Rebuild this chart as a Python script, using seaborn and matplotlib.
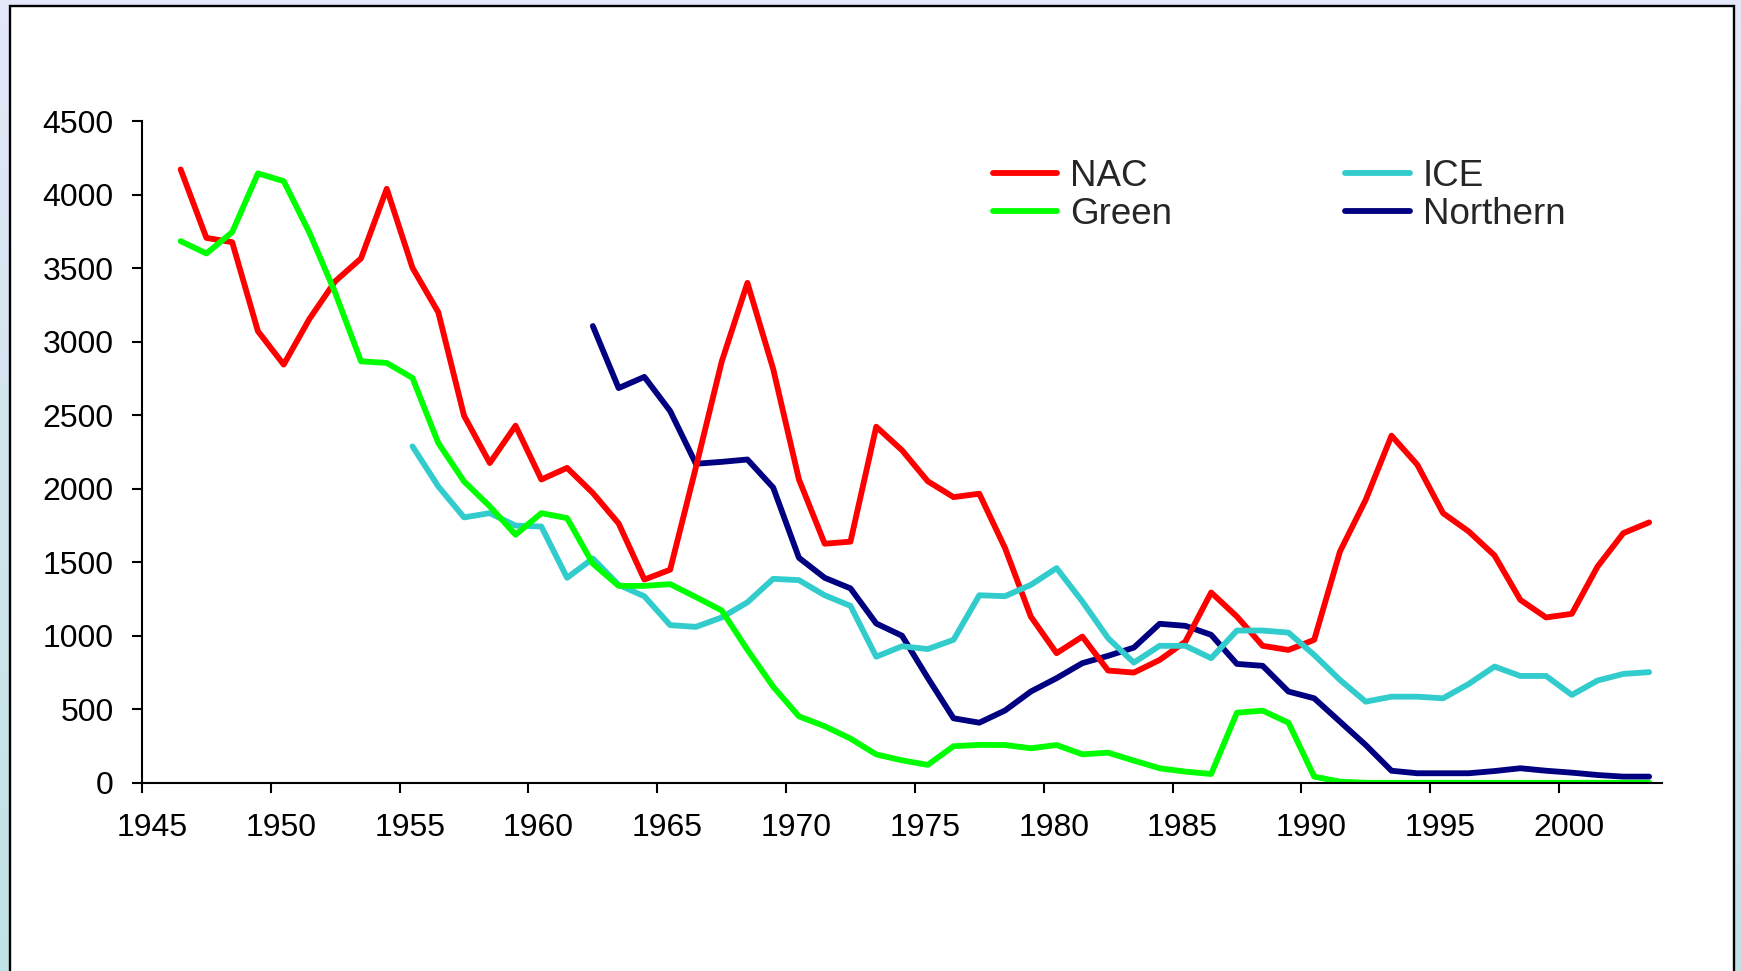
import numpy as np
import pandas as pd
import matplotlib
matplotlib.use("Agg")
import matplotlib.pyplot as plt
import matplotlib.transforms as mtransforms
from matplotlib.patches import Rectangle
from matplotlib.lines import Line2D
from matplotlib.colors import LinearSegmentedColormap
import seaborn as sns

# yearly values
first_year = 1946
nac = [4174, 3708, 3679, 3073, 2846, 3157, 3413, 3568, 4042, 3504,
       3202, 2498, 2176, 2430, 2064, 2143, 1972, 1765, 1383, 1450,
       2147, 2865, 3402, 2816, 2064, 1627, 1641, 2423, 2263, 2052,
       1944, 1967, 1597, 1131, 882, 995, 764, 750, 836, 961,
       1295, 1131, 932, 904, 973, 1574, 1926, 2362, 2165, 1835,
       1710, 1547, 1245, 1125, 1150, 1472, 1699, 1772]
green = [3686, 3602, 3747, 4147, 4094, 3743, 3334, 2868, 2857, 2755,
         2312, 2051, 1881, 1688, 1835, 1801, 1491, 1340, 1340, 1352,
         1264, 1173, 905, 654, 452, 385, 301, 193, 153, 122,
         249, 258, 257, 235, 257, 194, 205, 151, 99, 76,
         60, 477, 491, 409, 42, 8, 0, 0, 0, 0,
         0, 0, 0, 0, 0, 0, 0, 0]
ice_start = 1955
ice = [2289, 2017, 1806, 1835, 1750, 1744, 1395, 1526, 1347, 1269,
       1073, 1061, 1125, 1228, 1388, 1379, 1276, 1204, 858, 929,
       910, 973, 1276, 1270, 1347, 1461, 1234, 984, 818, 932,
       932, 848, 1036, 1036, 1022, 870, 700, 552, 586, 586,
       575, 673, 791, 727, 727, 598, 696, 741, 753]
northern_start = 1962
northern = [3108, 2686, 2762, 2530, 2171, 2184, 2200, 2009, 1531, 1395,
            1323, 1084, 1001, 714, 439, 409, 492, 621, 712, 814,
            864, 920, 1082, 1068, 1007, 809, 796, 621, 575, 416,
            257, 82, 65, 65, 65, 80, 99, 82, 69, 53,
            42, 42]

legend_order = ["NAC", "Green", "ICE", "Northern"]
draw_order = ["Northern", "NAC", "ICE", "Green"]
colors = {"NAC": "#ff0000", "Green": "#00ff00", "ICE": "#33cccc", "Northern": "#000080"}

frames = []
for name, start, vals in [("NAC", first_year, nac), ("Green", first_year, green),
                          ("ICE", ice_start, ice), ("Northern", northern_start, northern)]:
    yrs = np.arange(start, start + len(vals))
    # points sit in the middle of each year category
    frames.append(pd.DataFrame({"year": yrs + 0.5, "count": vals, "series": name}))
df = pd.concat(frames, ignore_index=True)

sns.set_style("ticks")
plt.rcParams["font.family"] = ["Liberation Sans", "DejaVu Sans"]

fig = plt.figure(figsize=(17.41, 9.71), dpi=100)

# slide background + white panel
bg = fig.add_axes([0, 0, 1, 1], zorder=-10)
cmap = LinearSegmentedColormap.from_list("bg", ["#e4e8f8", "#c0e2e6"])
bg.imshow(np.linspace(0, 1, 256).reshape(-1, 1), aspect="auto", cmap=cmap, extent=[0, 1, 0, 1])
bg.axis("off")
fig.patches.append(Rectangle((10 / 1741, -0.05), 1724 / 1741, 1 - 6.5 / 971 + 0.05,
                             transform=fig.transFigure, facecolor="white",
                             edgecolor="black", linewidth=1.7, zorder=-5))

ax = fig.add_axes([142 / 1741, (971 - 782.8) / 971, (1662 - 142) / 1741, (782.8 - 121.5) / 971], zorder=2)
ax.set_facecolor("none")

lw = 4.2
sns.lineplot(data=df, x="year", y="count", hue="series", hue_order=draw_order,
             palette=colors, linewidth=lw, errorbar=None, legend=False, ax=ax)

ax.set_xlim(1945, 2004)
ax.set_ylim(0, 4500)
ax.set_xticks(range(1945, 2001, 5))
ax.set_yticks(range(0, 4501, 500))
ax.set_xlabel("")
ax.set_ylabel("")
sns.despine(ax=ax)
for s in ["left", "bottom"]:
    ax.spines[s].set_linewidth(1.5)
    ax.spines[s].set_color("black")
ax.tick_params(axis="both", direction="out", length=7.5, width=1.5, labelsize=23, colors="black")
ax.tick_params(axis="y", pad=13)
ax.tick_params(axis="x", pad=14)
shift = mtransforms.ScaledTranslation(10 / 100, 0, fig.dpi_scale_trans)
for lbl in ax.get_xticklabels():
    lbl.set_transform(lbl.get_transform() + shift)

handles = [Line2D([0], [0], color=colors[n], linewidth=lw) for n in legend_order]
ax.legend(handles, legend_order, loc="upper left", bbox_to_anchor=(993 / 1741, 1 - 159 / 971),
          bbox_transform=fig.transFigure, ncol=2, frameon=False, fontsize=26.5,
          handlelength=1.75, handletextpad=0.35, columnspacing=4.7, labelspacing=0.08,
          borderpad=0, borderaxespad=0)

fig.savefig("out.png", dpi=100)
